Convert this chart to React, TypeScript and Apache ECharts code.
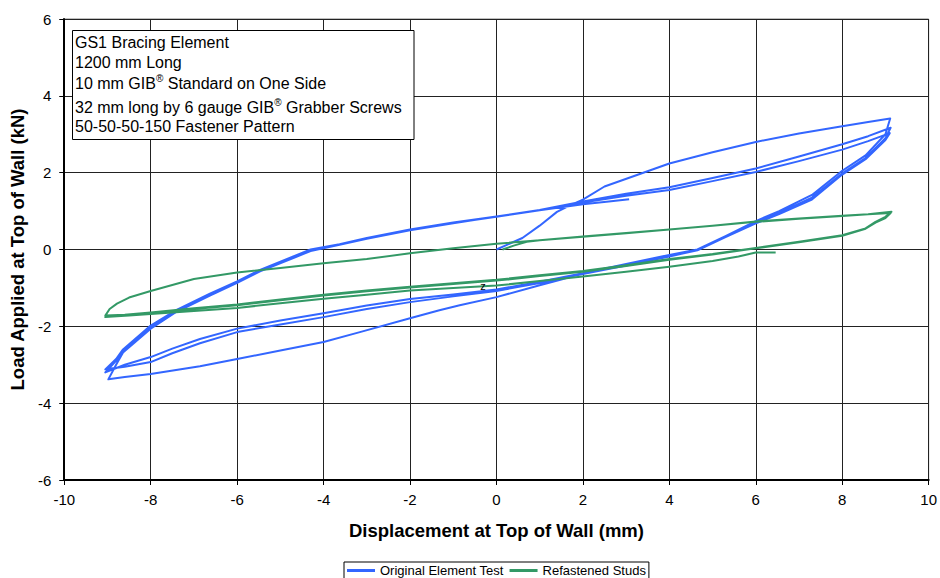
import React, { useEffect, useRef } from "react";
import * as echarts from "echarts";

const FONT = '"Liberation Sans", Arial, Helvetica, sans-serif';

// Axis ticks
const xMin = -10, xMax = 10, xStep = 2;
const yMin = -6, yMax = 6, yStep = 2;

// Series names
const seriesNames = ["Original Element Test", "Refastened Studs"];
const seriesColors = ["#3366FF", "#339966"];

// ---- Original Element Test (blue) : [displacement mm, load kN]
const blueVirginLoad = [[0,0],[0.6,0.3],[1.0,0.62],[1.4,0.98],[1.7,1.15],[2.0,1.3],[2.5,1.64],[3.3,1.96],[4.0,2.24],[5.0,2.53],[6.0,2.8],[7.0,3.02],[8.0,3.21],[8.6,3.32],[9.11,3.41]];
const blueUnload1 = [[9.11,3.41],[9.0,3.0],[8.54,2.45],[8.0,2.05],[7.3,1.42],[6.54,1.0],[6.0,0.74],[5.3,0.35],[4.65,0.0],[4.0,-0.14],[3.0,-0.38],[2.0,-0.62],[1.5,-0.78],[1.0,-0.93],[0,-1.24],[-0.85,-1.45],[-1.32,-1.58],[-2,-1.79],[-3.16,-2.15],[-4,-2.41],[-5,-2.63],[-6,-2.85],[-6.86,-3.04],[-8,-3.24],[-8.6,-3.32],[-8.98,-3.38]];
const blueReload1 = [[-8.98,-3.38],[-8.8,-3.0],[-8.64,-2.68],[-8.0,-2.06],[-7.4,-1.62],[-6.63,-1.2],[-6.0,-0.87],[-5.47,-0.57],[-4.7,-0.22],[-4.3,-0.04],[-3.63,0.12],[-3.0,0.28],[-2.0,0.5],[-1.0,0.68],[0,0.86],[1.0,1.03],[2.0,1.25],[3.0,1.45],[4.0,1.62],[5.0,1.86],[6.0,2.11],[7.0,2.42],[8.0,2.74],[8.6,2.95],[9.12,3.17]];
const blueUnload2 = [[9.12,3.17],[9.0,2.9],[8.54,2.38],[8.0,1.98],[7.3,1.35],[6.54,0.95],[6.0,0.7],[5.3,0.33],[4.65,-0.02],[4.0,-0.16],[3.0,-0.4],[2.0,-0.62],[1.0,-0.84],[0,-1.04],[-1.0,-1.17],[-2.0,-1.29],[-3.0,-1.46],[-4.0,-1.66],[-5.0,-1.85],[-6.0,-2.06],[-6.86,-2.33],[-7.5,-2.58],[-8.0,-2.8],[-8.6,-3.0],[-9.05,-3.2]];
const blueReload2 = [[-9.05,-3.2],[-8.8,-2.9],[-8.64,-2.64],[-8.0,-2.02],[-7.4,-1.6],[-6.63,-1.18],[-6.0,-0.85],[-5.47,-0.55],[-4.7,-0.2],[-4.3,-0.02],[-3.63,0.13],[-3.0,0.29],[-2.0,0.51],[-1.0,0.69],[0,0.85],[1.0,1.02],[2.0,1.22],[3.0,1.4],[4.0,1.55],[5.0,1.78],[6.0,2.02],[7.0,2.3],[8.0,2.6],[8.6,2.82],[9.1,3.03]];
const blueUnload3 = [[9.1,3.03],[9.0,2.85],[8.54,2.35],[8.0,1.95],[7.3,1.3],[6.54,0.92],[6.0,0.68],[5.3,0.32],[4.65,-0.02],[4.0,-0.18],[3.0,-0.42],[2.0,-0.64],[1.0,-0.87],[0,-1.08],[-1.0,-1.22],[-2.0,-1.37],[-3.0,-1.55],[-4.0,-1.76],[-5.0,-1.95],[-6.0,-2.15],[-6.86,-2.44],[-7.5,-2.7],[-8.0,-2.93],[-8.6,-3.05],[-9.05,-3.12]];
const blueReload3 = [[-9.05,-3.12],[-8.8,-2.85],[-8.64,-2.6],[-8.0,-1.98],[-7.4,-1.57],[-6.63,-1.15],[-6.0,-0.83],[-5.47,-0.53],[-4.7,-0.18],[-4.3,0.0],[-3.63,0.14],[-3.0,0.3],[-2.0,0.52],[-1.0,0.7],[0,0.86],[1.0,1.02],[2.0,1.18],[2.6,1.25],[3.07,1.31]];

// ---- Refastened Studs (green)
const greenFirstLoad = [[0.14,0],[0.4,0.1],[0.7,0.2],[1,0.24],[2,0.33],[3,0.42],[4,0.52],[5,0.62],[6,0.72],[7,0.8],[8,0.87],[8.6,0.92],[9.14,0.98]];
const greenUnload1 = [[9.14,0.98],[9.0,0.85],[8.77,0.72],[8.54,0.55],[8,0.37],[7,0.2],[6,0.04],[5,-0.12],[4,-0.25],[3,-0.41],[2,-0.56],[1,-0.67],[0,-0.79],[-1,-0.88],[-2,-0.97],[-3,-1.07],[-4,-1.18],[-5,-1.3],[-6,-1.43],[-7,-1.53],[-8,-1.64],[-8.6,-1.7],[-9.05,-1.72]];
const greenReload1 = [[-9.05,-1.72],[-8.95,-1.55],[-8.78,-1.41],[-8.5,-1.25],[-8,-1.08],[-7,-0.77],[-6,-0.6],[-5,-0.48],[-4,-0.36],[-3,-0.25],[-2,-0.1],[-1,0.03],[0,0.15],[1,0.24],[2,0.34],[3,0.43],[4,0.52],[5,0.62],[6,0.73],[7,0.81],[8,0.88],[8.6,0.92],[9.12,0.95]];
const greenUnload2 = [[9.12,0.95],[9.0,0.82],[8.77,0.7],[8.54,0.54],[8,0.36],[7,0.19],[6,0.03],[5,-0.13],[4,-0.27],[3,-0.43],[2,-0.58],[1,-0.69],[0,-0.81],[-1,-0.9],[-2,-0.99],[-3,-1.09],[-4,-1.2],[-5,-1.32],[-6,-1.45],[-7,-1.55],[-8,-1.66],[-8.6,-1.72],[-9.05,-1.76]];
const greenFinal = [[-9.05,-1.76],[-8.5,-1.72],[-8,-1.68],[-7,-1.6],[-6,-1.52],[-5,-1.4],[-4,-1.28],[-3,-1.18],[-2,-1.07],[-1,-1.0],[0,-0.94],[1,-0.82],[2,-0.7],[3,-0.58],[4,-0.45],[5,-0.3],[5.6,-0.18],[6,-0.08],[6.46,-0.08]];

const blueData = [blueVirginLoad, blueUnload1, blueReload1, blueUnload2, blueReload2, blueUnload3, blueReload3];
const greenData = [greenFirstLoad, greenUnload1, greenReload1, greenUnload2, greenFinal];

// Text content
const xTitle = "Displacement at Top of Wall (mm)";
const yTitle = "Load Applied at Top of Wall (kN)";
const noteLines = [
  ["GS1 Bracing Element"],
  ["1200 mm Long"],
  ["10 mm GIB", "®", " Standard on One Side"],
  ["32 mm long by 6 gauge GIB", "®", " Grabber Screws"],
  ["50-50-50-150 Fastener Pattern"],
];
const strayMark = "z";

function joinSegments(segs: number[][][]) {
  const out: number[][] = [];
  segs.forEach((s, i) => {
    s.forEach((p, j) => {
      if (i > 0 && j === 0) return;
      out.push(p);
    });
  });
  return out;
}

const ctx2d = typeof document !== "undefined" ? document.createElement("canvas").getContext("2d") : null;
function textWidth(t: string, size: number) {
  if (!ctx2d) return t.length * size * 0.5;
  ctx2d.font = `${size}px "Liberation Sans", Arial, sans-serif`;
  return ctx2d.measureText(t).width;
}

export default function App() {
  const ref = useRef<HTMLDivElement>(null);
  useEffect(() => {
    if (!ref.current) return;
    const chart = echarts.init(ref.current, null, { renderer: "svg" });

    const noteFont = 16;
    const supFont = 10;
    const noteX = 75;
    const noteYs = [42.5, 62.5, 83.2, 107.5, 126.8];
    const noteEls: any[] = [
      {
        type: "rect",
        shape: { x: 72.5, y: 30.5, width: 341.5, height: 109 },
        style: { fill: "#fff", stroke: "#000", lineWidth: 1 },
        z: 100,
      },
    ];
    noteLines.forEach((parts, i) => {
      let x = noteX;
      parts.forEach((p) => {
        const sup = p === "®";
        const size = sup ? supFont : noteFont;
        noteEls.push({
          type: "text",
          x,
          y: sup ? noteYs[i] - 5 : noteYs[i],
          z: 101,
          style: {
            text: p,
            fontSize: size,
            fontFamily: FONT,
            fill: "#000",
            align: "left",
            verticalAlign: "middle",
          },
        });
        x += textWidth(p, size);
      });
    });
    noteEls.push({
      type: "text",
      x: 483,
      y: 286,
      z: 101,
      style: { text: strayMark, fontSize: 11, fontFamily: FONT, fill: "#000", align: "center", verticalAlign: "middle" },
    });

    const axisCommon = {
      type: "value" as const,
      axisLine: { show: true, onZero: false, lineStyle: { color: "#000", width: 2 } },
      axisTick: { show: true, inside: false, length: 5, lineStyle: { color: "#000", width: 1 } },
      splitLine: { show: true, lineStyle: { color: "#222", width: 1 } },
      axisLabel: { color: "#000", fontSize: 15, fontFamily: FONT },
      nameTextStyle: { color: "#000", fontSize: 18.5, fontWeight: "bold" as const, fontFamily: FONT },
    };

    chart.setOption({
      animation: false,
      backgroundColor: "#fff",
      textStyle: { fontFamily: FONT },
      grid: { left: 64, top: 19, width: 866, height: 461, show: true, borderColor: "#808080", borderWidth: 1, backgroundColor: "transparent" },
      xAxis: {
        ...axisCommon,
        min: xMin,
        max: xMax,
        interval: xStep,
        name: xTitle,
        nameLocation: "middle",
        nameGap: 41,
        axisLabel: { ...axisCommon.axisLabel, margin: 12 },
      },
      yAxis: {
        ...axisCommon,
        min: yMin,
        max: yMax,
        interval: yStep,
        name: yTitle,
        nameLocation: "middle",
        nameGap: 37,
        axisLabel: { ...axisCommon.axisLabel, margin: 13 },
      },
      legend: {
        left: 344,
        top: 562,
        orient: "horizontal",
        icon: "rect",
        itemWidth: 28,
        itemHeight: 3,
        itemGap: 6,
        padding: [2, 3, 2, 3],
        borderColor: "#000",
        borderWidth: 1,
        backgroundColor: "#fff",
        textStyle: { color: "#000", fontSize: 13, lineHeight: 13, fontFamily: FONT },
        data: seriesNames,
      },
      graphic: noteEls,
      series: [
        {
          name: seriesNames[0],
          type: "line",
          data: joinSegments(blueData),
          showSymbol: false,
          symbol: "none",
          lineStyle: { color: seriesColors[0], width: 2, join: "round" },
          itemStyle: { color: seriesColors[0] },
        },
        {
          name: seriesNames[1],
          type: "line",
          data: joinSegments(greenData),
          showSymbol: false,
          symbol: "none",
          lineStyle: { color: seriesColors[1], width: 2, join: "round" },
          itemStyle: { color: seriesColors[1] },
        },
      ],
    });
    return () => chart.dispose();
  }, []);
  return <div ref={ref} style={{ position: "absolute", left: 0, top: 0, width: 940, height: 578 }} />;
}
